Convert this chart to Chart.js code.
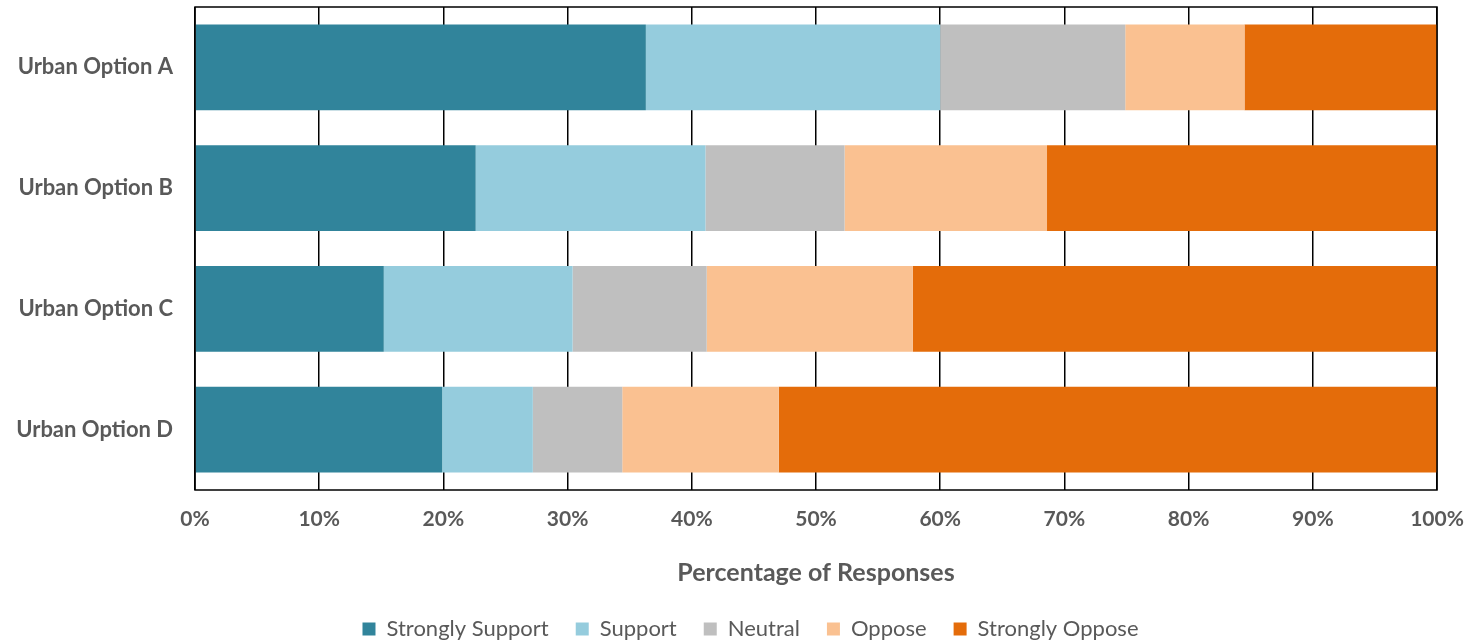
<!DOCTYPE html>
<html>
<head>
<meta charset="utf-8">
<script src="https://cdn.jsdelivr.net/npm/chart.js@4/dist/chart.umd.min.js"></script>
<style>
  html, body { margin: 0; padding: 0; background: #ffffff; overflow: hidden; }
  #wrap { width: 1468px; height: 650px; position: relative; }
</style>
</head>
<body>
<div id="wrap"><canvas id="chart"></canvas></div>
<script>
// Survey options and response shares (percent of responses)
const categories = ['Urban Option A', 'Urban Option B', 'Urban Option C', 'Urban Option D'];
const seriesNames = ['Strongly Support', 'Support', 'Neutral', 'Oppose', 'Strongly Oppose'];
const stronglySupport = [36.3, 22.6, 15.2, 19.9];
const support         = [23.7, 18.5, 15.2, 7.3];
const neutral         = [14.9, 11.2, 10.8, 7.2];
const oppose          = [9.6, 16.3, 16.6, 12.6];
const stronglyOppose  = [15.5, 31.4, 42.2, 53.0];
const seriesColors = ['#31849B', '#95CCDD', '#BFBFBF', '#FAC191', '#E46C0A'];
const xTickValues = [0, 10, 20, 30, 40, 50, 60, 70, 80, 90, 100];

const seriesValues = [stronglySupport, support, neutral, oppose, stronglyOppose];
const textColor = '#595959';
const fontFamily = 'Lato, "Open Sans", sans-serif';

// Outline around the plotting area
const frame = {
  id: 'frame',
  afterDatasetsDraw(chart) {
    const { ctx, chartArea: a } = chart;
    ctx.save();
    ctx.strokeStyle = '#000000';
    ctx.lineWidth = 1.5;
    ctx.strokeRect(a.left, a.top, a.right - a.left, a.bottom - a.top);
    ctx.restore();
  }
};

// Centre the legend row under the plotting area rather than the whole canvas
const legendShift = {
  id: 'legendShift',
  afterLayout(chart) {
    if (chart.legend) {
      chart.legend.left += 32;
      chart.legend.right += 32;
    }
  }
};

new Chart(document.getElementById('chart'), {
  type: 'bar',
  data: {
    labels: categories,
    datasets: seriesNames.map((name, i) => ({
      label: name,
      data: seriesValues[i],
      backgroundColor: seriesColors[i],
      borderWidth: 0,
      barPercentage: 0.71,
      categoryPercentage: 1.0
    }))
  },
  options: {
    indexAxis: 'y',
    responsive: true,
    maintainAspectRatio: false,
    animation: false,
    layout: { padding: { top: 7, right: 31, left: 0, bottom: 0 } },
    scales: {
      x: {
        stacked: true,
        min: 0,
        max: 100,
        afterBuildTicks(scale) {
          scale.ticks = xTickValues.map(v => ({ value: v }));
        },
        afterFit(scale) {
          scale.height = 101;
          scale.paddingLeft = 0;
          scale.paddingRight = 0;
        },
        grid: { color: '#000000', lineWidth: 1.5, drawTicks: false },
        border: { display: false },
        ticks: {
          padding: 17,
          color: textColor,
          font: { family: fontFamily, size: 21, weight: 'bold' },
          callback: v => v + '%'
        },
        title: {
          display: true,
          text: 'Percentage of Responses',
          color: textColor,
          font: { family: fontFamily, size: 25, weight: 'bold' },
          padding: { top: 0, bottom: 3 }
        }
      },
      y: {
        stacked: true,
        afterFit(scale) {
          scale.width = 195;
          scale.paddingTop = 0;
          scale.paddingBottom = 0;
        },
        grid: { display: false, drawTicks: false },
        border: { display: false },
        ticks: {
          padding: 22,
          color: textColor,
          font: { family: fontFamily, size: 22, weight: 'bold' }
        }
      }
    },
    plugins: {
      legend: {
        position: 'bottom',
        labels: {
          boxWidth: 13,
          boxHeight: 13,
          padding: 27,
          color: textColor,
          font: { family: fontFamily, size: 22 }
        }
      },
      tooltip: { enabled: false }
    }
  },
  plugins: [frame, legendShift]
});
</script>
</body>
</html>
